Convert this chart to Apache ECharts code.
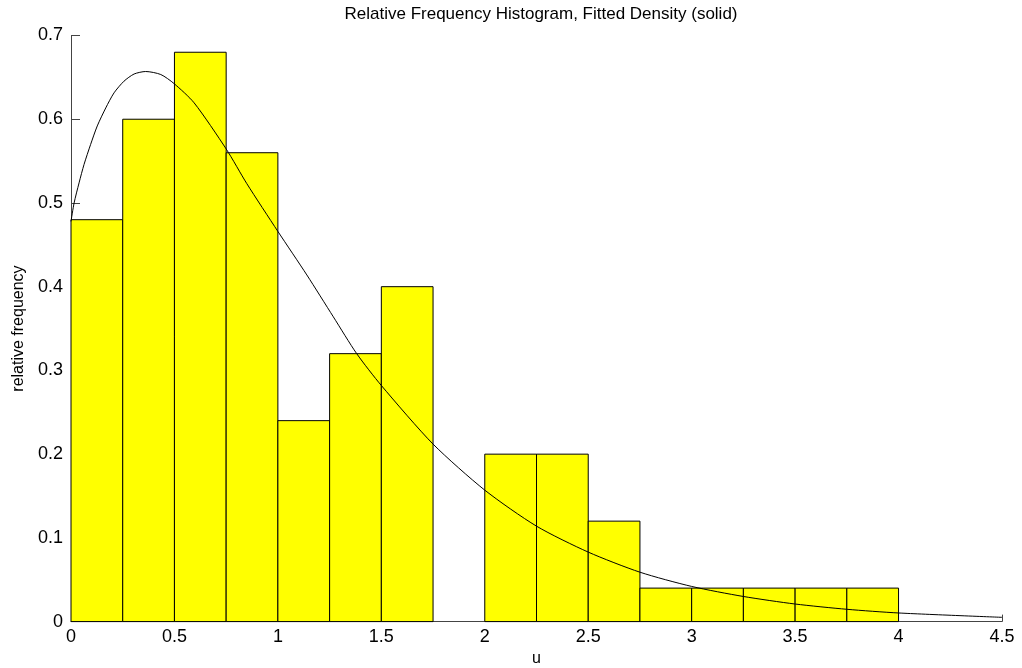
<!DOCTYPE html>
<html>
<head>
<meta charset="utf-8">
<style>
  html, body { margin: 0; padding: 0; background: #ffffff; }
  #chart { width: 1022px; height: 668px; }
</style>
<script src="https://cdn.jsdelivr.net/npm/echarts@6/dist/echarts.min.js"></script>
</head>
<body>
<div id="chart"></div>
<script>
// Histogram bins (left edges, width 0.25) and their relative frequencies
const binWidth = 0.25;
const binStarts = [0, 0.25, 0.5, 0.75, 1.0, 1.25, 1.5, 1.75, 2.0, 2.25, 2.5, 2.75, 3.0, 3.25, 3.5, 3.75];
const binFreq   = [0.48, 0.60, 0.68, 0.56, 0.24, 0.32, 0.40, 0, 0.20, 0.20, 0.12, 0.04, 0.04, 0.04, 0.04, 0.04];

// Fitted density curve, sampled points (u, density)
const curveU = [0, 0.015, 0.039, 0.063, 0.095, 0.127, 0.168, 0.208, 0.256, 0.305, 0.361, 0.434, 0.498,
                0.595, 0.75, 0.85, 1.0, 1.14, 1.268, 1.381, 1.5, 1.75, 2.0, 2.25, 2.5, 2.75,
                3.0, 3.25, 3.5, 3.75, 4.0, 4.5];
const curveF = [0.478, 0.500, 0.524, 0.546, 0.570, 0.592, 0.6135, 0.6315, 0.6454, 0.654, 0.657, 0.6534, 0.6426,
                0.6196, 0.5645, 0.523, 0.466, 0.414, 0.364, 0.320, 0.282, 0.212, 0.157, 0.114, 0.083, 0.059,
                0.042, 0.030, 0.021, 0.0147, 0.0103, 0.0051];

const titleText = 'Relative Frequency Histogram, Fitted Density (solid)';
const xName = 'u';
const yName = 'relative frequency';

const barData = binStarts.map((s, i) => [s, s + binWidth, binFreq[i]]);
const curveData = curveU.map((u, i) => [u, curveF[i]]);

const FONT = '"Liberation Sans", Arial, Helvetica, sans-serif';
const axisGray = '#444444';

const chart = echarts.init(document.getElementById('chart'), null, { renderer: 'canvas' });
chart.setOption({
  animation: false,
  backgroundColor: '#ffffff',
  title: {
    text: titleText,
    left: 536,
    textAlign: 'center',
    top: 1,
    textStyle: { fontFamily: FONT, fontSize: 17, fontWeight: 'normal', color: '#000000' }
  },
  grid: {
    left: 71, right: 20, top: 35.5, bottom: 46.4,
    containLabel: false,
    outerBoundsMode: 'none'
  },
  xAxis: {
    type: 'value',
    min: 0, max: 4.5, interval: 0.5,
    name: xName,
    nameLocation: 'middle',
    nameGap: 27,
    nameTextStyle: { fontFamily: FONT, fontSize: 16, color: '#000000' },
    axisLine: { show: true, lineStyle: { color: axisGray, width: 1 } },
    axisTick: { show: true, inside: true, length: 7, lineStyle: { color: axisGray } },
    axisLabel: { fontFamily: FONT, fontSize: 18, color: '#000000', margin: 6 },
    splitLine: { show: false }
  },
  yAxis: {
    type: 'value',
    min: 0, max: 0.7, interval: 0.1,
    name: yName,
    nameLocation: 'middle',
    nameRotate: 90,
    nameGap: 42,
    nameTextStyle: { fontFamily: FONT, fontSize: 16, color: '#000000' },
    axisLine: { show: true, lineStyle: { color: axisGray, width: 1 } },
    axisTick: { show: true, inside: true, length: 9, lineStyle: { color: axisGray } },
    axisLabel: { fontFamily: FONT, fontSize: 18, color: '#000000', margin: 8 },
    splitLine: { show: false }
  },
  series: [
    {
      type: 'custom',
      data: barData,
      z: 2,
      renderItem: function (params, api) {
        const x0 = api.value(0), x1 = api.value(1), h = api.value(2);
        if (h <= 0) return null;
        const p0 = api.coord([x0, 0]);
        const p1 = api.coord([x1, h]);
        return {
          type: 'rect',
          shape: { x: p0[0], y: p1[1], width: p1[0] - p0[0], height: p0[1] - p1[1] },
          style: { fill: '#ffff00', stroke: '#000000', lineWidth: 1 }
        };
      },
      encode: { x: [0, 1], y: 2 }
    },
    {
      type: 'line',
      data: curveData,
      z: 5,
      smooth: 0.25,
      symbol: 'none',
      lineStyle: { color: '#000000', width: 1 }
    }
  ]
});
</script>
</body>
</html>
